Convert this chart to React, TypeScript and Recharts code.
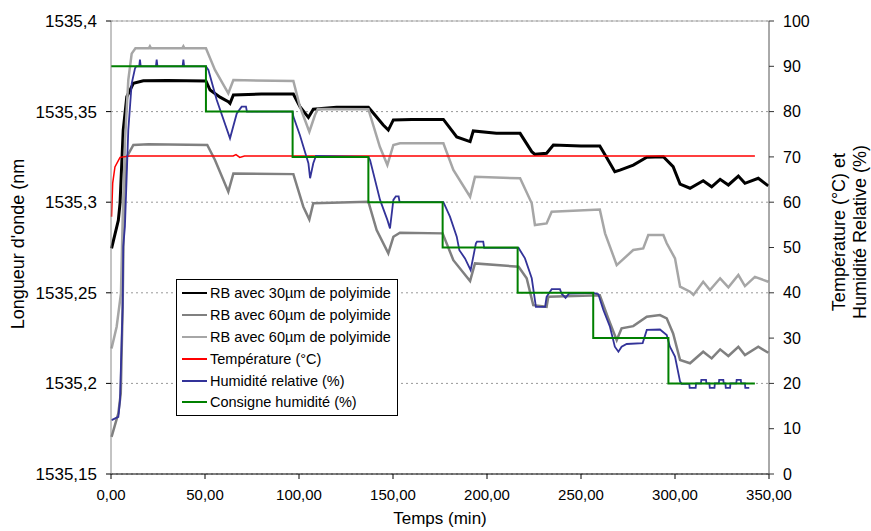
import React from 'react';
import {
  LineChart,
  Line,
  XAxis,
  YAxis,
  CartesianGrid,
  ReferenceLine,
  Legend
} from 'recharts';

// time (min) / wavelength (nm)
const rb30: [number, number][] = [
  [0.3, 1535.2745], [3.9, 1535.29], [4.8, 1535.2993], [6.5, 1535.3398], [8.4, 1535.3582],
  [11.9, 1535.3656], [17.2, 1535.367], [30, 1535.3672], [50.5, 1535.3669], [52.7, 1535.3619],
  [58, 1535.358], [62.4, 1535.3555], [63.3, 1535.3546], [65.1, 1535.3592], [80, 1535.3597],
  [97, 1535.3597], [100.5, 1535.3527], [105, 1535.3468], [107.6, 1535.3513], [120, 1535.3524],
  [136.9, 1535.3524], [140.5, 1535.348], [144.8, 1535.3426], [147.5, 1535.3398], [150.2, 1535.3454],
  [160, 1535.3457], [176.8, 1535.3457], [183.9, 1535.336], [191, 1535.3334], [192.7, 1535.3393],
  [205, 1535.338], [217.6, 1535.338], [223.8, 1535.3279], [225.5, 1535.3264], [231.7, 1535.327],
  [235.3, 1535.3316], [250, 1535.331], [260, 1535.331], [263.7, 1535.3245], [268, 1535.3168],
  [270.7, 1535.3177], [277.8, 1535.3205], [285, 1535.3248], [293.8, 1535.3251], [299, 1535.3196],
  [302.7, 1535.31], [308, 1535.3077], [315, 1535.3118], [319.5, 1535.3085], [324, 1535.3126],
  [328.4, 1535.3095], [333.7, 1535.3144], [337.2, 1535.3104], [344.3, 1535.3132], [349.6, 1535.309]
];

const rb60a: [number, number][] = [
  [0.3, 1535.1705], [3.9, 1535.1835], [5.2, 1535.1945], [6.2, 1535.2423], [6.9, 1535.303],
  [8.4, 1535.325], [11.9, 1535.3316], [20, 1535.332], [51.2, 1535.3316], [55.3, 1535.3233],
  [62.4, 1535.3058], [65.1, 1535.3159], [97, 1535.3155], [102.3, 1535.2975], [105.5, 1535.2905],
  [107.6, 1535.2994], [136.9, 1535.3003], [141.3, 1535.2846], [147.5, 1535.2718], [150.2, 1535.2809],
  [153.7, 1535.2832], [176.4, 1535.2828], [182.1, 1535.268], [191, 1535.2565], [193.6, 1535.2662],
  [216.8, 1535.2644], [221.1, 1535.258], [224.6, 1535.2432], [231.7, 1535.2423], [232.6, 1535.2478],
  [260, 1535.2487], [264.5, 1535.2359], [269, 1535.2239], [271.6, 1535.2304], [277.8, 1535.2316],
  [285, 1535.2368], [292, 1535.2377], [295.6, 1535.2359], [299, 1535.2276], [302.7, 1535.2129],
  [308, 1535.2111], [315, 1535.2175], [319.5, 1535.2138], [324, 1535.2188], [328.4, 1535.2151],
  [333.7, 1535.2202], [337.2, 1535.2156], [344.3, 1535.2202], [349.6, 1535.2169]
];

const rb60b: [number, number][] = [
  [0.3, 1535.2193], [3, 1535.2313], [5.3, 1535.2497], [6.2, 1535.29], [7.5, 1535.335],
  [9.2, 1535.3674], [11, 1535.382], [13, 1535.3849], [20.2, 1535.385], [20.7, 1535.386],
  [21.2, 1535.385], [38, 1535.385], [38.5, 1535.386], [39, 1535.385], [50.5, 1535.3849],
  [55.3, 1535.373], [62.4, 1535.3601], [65.1, 1535.3674], [97, 1535.3669], [100.5, 1535.3527],
  [105.5, 1535.3389], [108.5, 1535.3481], [110, 1535.3515], [136.9, 1535.3513], [143, 1535.3306],
  [147, 1535.3205], [150.2, 1535.3316], [153.7, 1535.3325], [176.8, 1535.3325], [182.1, 1535.3178],
  [191, 1535.303], [193.6, 1535.314], [217.6, 1535.3132], [223.8, 1535.2994], [225.5, 1535.2874],
  [231.7, 1535.2883], [234.4, 1535.2947], [260, 1535.296], [262.8, 1535.2828], [269, 1535.2653],
  [277.8, 1535.2736], [283.1, 1535.2745], [285.8, 1535.2819], [293.8, 1535.2819], [295.6, 1535.2773],
  [300, 1535.269], [302.7, 1535.2534], [308, 1535.2506], [309.8, 1535.2488], [315, 1535.2561],
  [318.6, 1535.2515], [324, 1535.258], [328.4, 1535.253], [333.7, 1535.2598], [337.2, 1535.2537],
  [342.5, 1535.2588], [349.6, 1535.2561]
];

// time (min) / °C or %
const temperature: [number, number][] = [
  [0.3, 56.8], [0.9, 64.2], [2.1, 67.8], [4.8, 69.9], [10, 70.2], [65, 70.2], [66.5, 70.5],
  [68.5, 69.9], [71, 70.2], [342.5, 70.2]
];

const humidity: [number, number][] = [
  [0.3, 11.9], [3.9, 12.6], [4.8, 16.3], [5.3, 24], [6.2, 36.9], [6.5, 50.2], [7.4, 54.6],
  [9.2, 75.9], [11, 86.2], [12.8, 89.6], [13.5, 90], [15, 90], [15.4, 91.5], [15.8, 90],
  [23.9, 90], [24.3, 91.5], [24.7, 90], [38.1, 90], [38.5, 91.5], [38.9, 90], [50.5, 90],
  [51.8, 89.2], [56.2, 82.6], [63.3, 74.1], [66.9, 79.6], [69.5, 81.1], [71.8, 81.1], [72.3, 80],
  [96.6, 80], [97, 78.9], [100.5, 74.8], [105, 68.6], [105.9, 65.3], [107.6, 68.6], [109, 70.2],
  [136.9, 70], [137.8, 69.3], [143.1, 60.5], [147, 56.1], [148.4, 54.2], [150.2, 60.5],
  [151.5, 61.3], [153, 61.3], [153.5, 60], [176.8, 60], [180.3, 56.8], [183.9, 52.4],
  [185.3, 49.4], [188.3, 47.6], [191.3, 45], [194.1, 50.9], [194.7, 51.3], [198, 51.3],
  [198.5, 49.9], [216.8, 49.9], [220.2, 47.6], [223.8, 43.2], [225.5, 38.4], [226, 36.9],
  [230.9, 36.9], [231.7, 39.1], [234.4, 40.8], [238.8, 40.8], [239.7, 39.8], [241.8, 38.9],
  [243.6, 39.8], [256.5, 40], [259.2, 39.7], [261.9, 36.2], [265.4, 32.5], [268, 28.1],
  [269.9, 27], [271.6, 28.1], [274.3, 28.7], [282.8, 28.9], [285, 31.8], [292, 31.9],
  [295.6, 30.7], [297.3, 28.1], [300, 25.9], [302.7, 20.4], [303.5, 19.9], [307.6, 19.9],
  [307.8, 19], [311, 19], [311.2, 20], [313.8, 20], [314, 20.8], [316.5, 20.8], [316.7, 20],
  [318.3, 20], [318.5, 19], [321, 19], [321.2, 20], [323.3, 20], [323.5, 20.8], [325.7, 20.8],
  [325.9, 20], [326.8, 20], [327, 19], [329.3, 19], [329.5, 20], [332.6, 20], [332.8, 20.8],
  [335, 20.8], [335.2, 20], [337.2, 20], [337.4, 19], [339.5, 19]
];

const setpoint: [number, number][] = [
  [0, 90], [50.5, 80], [96.6, 70], [136.9, 60], [176.4, 50], [216.3, 40], [256.5, 30],
  [296.5, 20], [342.5, 20]
];

const timeTicks = [0, 50, 100, 150, 200, 250, 300, 350];
const wavelengthTicks = [1535.15, 1535.2, 1535.25, 1535.3, 1535.35, 1535.4];
const percentTicks = [0, 10, 20, 30, 40, 50, 60, 70, 80, 90, 100];

const legendItems = [
  { name: 'RB avec 30µm de polyimide', color: '#000000' },
  { name: 'RB avec 60µm de polyimide', color: '#808080' },
  { name: 'RB avec 60µm de polyimide', color: '#a6a6a6' },
  { name: 'Température (°C)', color: '#ff0000' },
  { name: 'Humidité relative (%)', color: '#333399' },
  { name: 'Consigne humidité (%)', color: '#008000' }
];

const toPoints = (arr: [number, number][]) => arr.map(([t, v]) => ({ t, v }));

const FONT = '"Liberation Sans", Arial, sans-serif';

const LeftTitle = () => (
  <text x={24} y={244} transform="rotate(-90 24 244)" textAnchor="middle"
    fontSize={18} fontFamily={FONT} fill="#000">
    Longueur d'onde (nm
  </text>
);

const RightTitle = () => (
  <g fontSize={18} fontFamily={FONT} fill="#000">
    <text x={845} y={232} transform="rotate(-90 845 232)" textAnchor="middle">Température (°C) et</text>
    <text x={866} y={232} transform="rotate(-90 866 232)" textAnchor="middle">Humidité Relative (%)</text>
  </g>
);

const BottomTitle = () => (
  <text x={440} y={524} textAnchor="middle" fontSize={17} fontFamily={FONT} fill="#000">
    Temps (min)
  </text>
);

const LegendBox = () => (
  <div style={{
    border: '1px solid #000',
    background: '#fff',
    padding: '2px 6px 2px 5px',
    fontFamily: FONT,
    fontSize: 14.5,
    color: '#000'
  }}>
    {legendItems.map((item, i) => (
      <div key={i} style={{ display: 'flex', alignItems: 'center', height: 21.9 }}>
        <span style={{ display: 'inline-block', width: 25, height: 2, background: item.color, marginRight: 3 }} />
        <span>{item.name}</span>
      </div>
    ))}
  </div>
);

export default function App() {
  return (
    <div style={{ position: 'absolute', left: 0, top: 0, width: 871, height: 531, background: '#fff' }}>
      <LineChart width={871} height={531} margin={{ top: 21, right: 0, bottom: 0, left: 0 }}>
        <CartesianGrid yAxisId="l" vertical={false} stroke="#999" strokeDasharray="2 3" />
        <XAxis
          dataKey="t"
          type="number"
          domain={[0, 350]}
          ticks={timeTicks}
          tickFormatter={(t: number) => t.toFixed(2).replace('.', ',')}
          height={57}
          tickSize={5}
          tickMargin={10}
          tick={{ fontSize: 15, fill: '#000', fontFamily: FONT }}
          stroke="#000"
          label={<BottomTitle />}
        />
        <YAxis
          yAxisId="l"
          type="number"
          domain={[1535.15, 1535.4]}
          ticks={wavelengthTicks}
          allowDataOverflow
          tickFormatter={(v: number) => String(v).replace('.', ',')}
          width={111}
          tickSize={5}
          tickMargin={9}
          tick={{ fontSize: 17, fill: '#000', fontFamily: FONT }}
          axisLine={{ stroke: '#888' }}
          tickLine={{ stroke: '#000' }}
          label={<LeftTitle />}
        />
        <YAxis
          yAxisId="r"
          orientation="right"
          type="number"
          domain={[0, 100]}
          ticks={percentTicks}
          width={102}
          tickSize={5}
          tickMargin={9}
          tick={{ fontSize: 16, fill: '#000', fontFamily: FONT }}
          axisLine={{ stroke: '#555' }}
          tickLine={{ stroke: '#333' }}
          label={<RightTitle />}
        />
        <ReferenceLine yAxisId="l" y={1535.4} stroke="#aaa" />
        <Line yAxisId="l" data={toPoints(rb30)} dataKey="v" name={legendItems[0].name}
          stroke="#000" strokeWidth={3} dot={false} isAnimationActive={false} />
        <Line yAxisId="l" data={toPoints(rb60a)} dataKey="v" name={legendItems[1].name}
          stroke="#808080" strokeWidth={2.5} dot={false} isAnimationActive={false} />
        <Line yAxisId="l" data={toPoints(rb60b)} dataKey="v" name={legendItems[2].name}
          stroke="#a6a6a6" strokeWidth={2.5} dot={false} isAnimationActive={false} />
        <Line yAxisId="r" data={toPoints(temperature)} dataKey="v" name={legendItems[3].name}
          stroke="#ff0000" strokeWidth={1.5} dot={false} isAnimationActive={false} />
        <Line yAxisId="r" data={toPoints(humidity)} dataKey="v" name={legendItems[4].name}
          stroke="#333399" strokeWidth={1.8} dot={false} isAnimationActive={false} />
        <Line yAxisId="r" type="stepAfter" data={toPoints(setpoint)} dataKey="v" name={legendItems[5].name}
          stroke="#008000" strokeWidth={2} dot={false} isAnimationActive={false} />
        <Legend
          layout="vertical"
          align="center"
          verticalAlign="middle"
          content={<LegendBox />}
          wrapperStyle={{ left: 176, top: 279, width: 'auto' }}
        />
      </LineChart>
    </div>
  );
}
